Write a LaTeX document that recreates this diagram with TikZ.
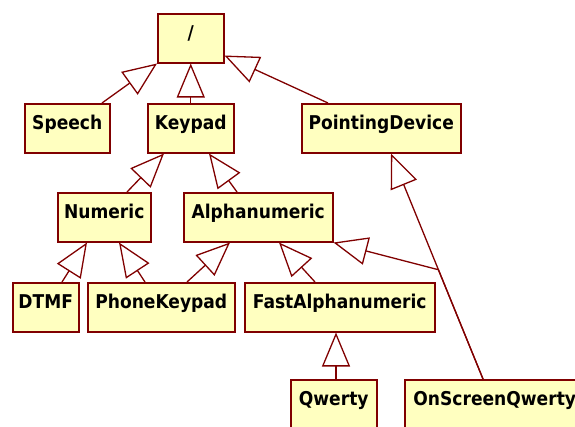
\documentclass[tikz,border=0pt]{standalone}
\usepackage{fontspec}
\setmainfont{DejaVu Sans Condensed}
\usetikzlibrary{arrows.meta,calc}

\definecolor{umlborder}{RGB}{128,0,0}
\definecolor{umlfill}{RGB}{255,255,192}

\tikzset{
  cls/.style={draw=umlborder, fill=umlfill, line width=1.5pt, rectangle,
    anchor=north west, inner xsep=0pt, inner ysep=0pt,
    minimum height=49pt, text height=26pt, text depth=23pt,
    font=\fontsize{19pt}{22pt}\selectfont\bfseries},
  gen/.style={draw=umlborder, line width=1.3pt, line join=miter,
    -{Triangle[length=34pt, width=28pt, fill=white]}},
}

\begin{document}
\begin{tikzpicture}[x=1pt, y=-1pt]
\useasboundingbox (0,0) rectangle (575,426);
\clip (0,0) rectangle (575,426);

% class boxes
\node[cls, minimum width=66pt]  (root)     at (157,13)  {/};
\node[cls, minimum width=85pt]  (speech)   at (24,103)  {Speech};
\node[cls, minimum width=86pt]  (keypad)   at (147,103) {Keypad};
\node[cls, minimum width=159pt] (pointing) at (301,103) {PointingDevice};
\node[cls, minimum width=93pt]  (numeric)  at (57,192)  {Numeric};
\node[cls, minimum width=149pt] (alpha)    at (183,192) {Alphanumeric};
\node[cls, minimum width=66pt]  (dtmf)     at (12,282)  {DTMF};
\node[cls, minimum width=147pt] (phone)    at (87,282)  {PhoneKeypad};
\node[cls, minimum width=190pt] (fast)     at (244,282) {FastAlphanumeric};
\node[cls, minimum width=86pt]  (qwerty)   at (290,379) {Qwerty};
\node[cls, minimum width=180pt] (onscreen) at (404,379) {OnScreenQwerty};

% generalisations
\draw[gen] ([xshift=78pt]speech.north west) -- (root.south west);
\draw[gen] (keypad.north) -- (root.south);
\draw[gen] ([xshift=27pt]pointing.north west) -- ([yshift=8pt]root.south east);
\draw[gen] ([xshift=70pt]numeric.north west) -- ([xshift=17pt]keypad.south west);
\draw[gen] ([xshift=54pt]alpha.north west) -- ([xshift=62pt]keypad.south west);
\draw[gen] ([xshift=50pt]dtmf.north west) -- ([xshift=30pt]numeric.south west);
\draw[gen] ([xshift=58pt]phone.north west) -- ([xshift=62pt]numeric.south west);
\draw[gen] ([xshift=100pt]phone.north west) -- ([xshift=47pt]alpha.south west);
\draw[gen] ([xshift=71pt]fast.north west) -- ([xshift=96pt]alpha.south west);
\draw[gen] ([xshift=46pt]qwerty.north west) -- ([xshift=92pt]fast.south west);

\coordinate (osq) at ([xshift=79pt]onscreen.north west);
\coordinate (pdb) at ([xshift=90pt]pointing.south west);
\coordinate (bend) at ($(osq)!0.4846!(pdb)$);
\draw[gen] (osq) -- (pdb);
\draw[gen] (osq) -- (bend) -- (alpha.south east);
\end{tikzpicture}
\end{document}
